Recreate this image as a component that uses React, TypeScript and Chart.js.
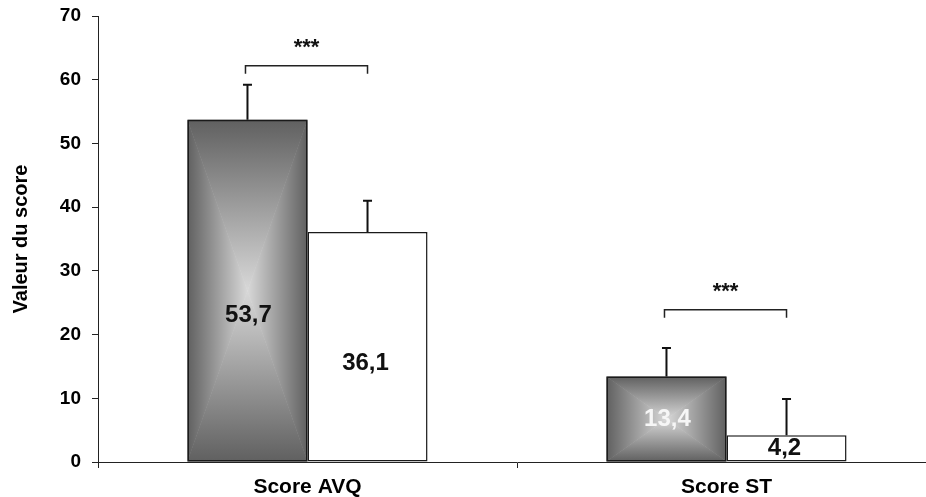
import React, { useEffect, useRef } from 'react';
import { Chart, registerables } from 'chart.js';

Chart.register(...registerables);

// ---- data ----
const categories = ['Score AVQ', 'Score ST'];
const groupGray = [53.7, 13.4];
const groupWhite = [36.1, 4.2];
const errTopGray = [59.2, 17.9];
const errTopWhite = [41.0, 9.9];
const labelsGray = ['53,7', '13,4'];
const labelsWhite = ['36,1', '4,2'];
const sigLevels = [62.2, 23.9];
const sigTexts = ['***', '***'];
const yMin = 0;
const yMax = 70;
const yStep = 10;
const yTitle = 'Valeur du score';

// ---- style ----
const FONT = '"Liberation Sans", Arial, sans-serif';
const LABEL_FRAC = [0.43, 0.5];
const LABEL_COLORS_GRAY = ['#111111', '#f6f6f6'];
const AXIS_COLOR = '#222222';

const W = 940;
const H = 497;

const overlayPlugin = {
  id: 'overlay',
  beforeDatasetDraw(chart: any, args: any) {
    if (args.index !== 0) return;
    const ctx = chart.ctx as CanvasRenderingContext2D;
    const meta = chart.getDatasetMeta(0);
    meta.data.forEach((bar: any) => {
      const { x, y, base, width } = bar.getProps(['x', 'y', 'base', 'width'], true);
      const l = x - width / 2;
      const r = x + width / 2;
      const t = Math.min(y, base);
      const b = Math.max(y, base);
      const cx = x;
      const cy = (t + b) / 2;
      const tri = (pts: number[][], gx0: number, gy0: number, gx1: number, gy1: number) => {
        const g = ctx.createLinearGradient(gx0, gy0, gx1, gy1);
        g.addColorStop(0, '#606060');
        g.addColorStop(0.5, '#9c9c9c');
        g.addColorStop(1, '#d8d8d8');
        ctx.fillStyle = g;
        ctx.beginPath();
        ctx.moveTo(pts[0][0], pts[0][1]);
        ctx.lineTo(pts[1][0], pts[1][1]);
        ctx.lineTo(pts[2][0], pts[2][1]);
        ctx.closePath();
        ctx.fill();
      };
      ctx.save();
      for (let k = 0; k < 2; k++) {
        tri([[l, t], [l, b], [cx, cy]], l, cy, cx, cy);
        tri([[r, t], [r, b], [cx, cy]], r, cy, cx, cy);
        tri([[l, t], [r, t], [cx, cy]], cx, t, cx, cy);
        tri([[l, b], [r, b], [cx, cy]], cx, b, cx, cy);
      }
      ctx.restore();
    });
  },
  afterDatasetsDraw(chart: any) {
    const ctx = chart.ctx as CanvasRenderingContext2D;
    const yS = chart.scales.y;
    const m0 = chart.getDatasetMeta(0);
    const m1 = chart.getDatasetMeta(1);
    ctx.save();
    // error bars
    const drawErr = (bar: any, top: number) => {
      const { x, y } = bar.getProps(['x', 'y'], true);
      const yt = yS.getPixelForValue(top);
      ctx.strokeStyle = '#111111';
      ctx.lineWidth = 2;
      ctx.beginPath();
      ctx.moveTo(x, y);
      ctx.lineTo(x, yt);
      ctx.moveTo(x - 4.5, yt);
      ctx.lineTo(x + 4.5, yt);
      ctx.stroke();
    };
    categories.forEach((_, i) => {
      drawErr(m0.data[i], errTopGray[i]);
      drawErr(m1.data[i], errTopWhite[i]);
    });
    // value labels
    ctx.font = `bold 24px ${FONT}`;
    ctx.textAlign = 'center';
    ctx.textBaseline = 'middle';
    categories.forEach((_, i) => {
      const b0 = m0.data[i].getProps(['x'], true);
      const b1 = m1.data[i].getProps(['x'], true);
      ctx.fillStyle = LABEL_COLORS_GRAY[i];
      ctx.fillText(labelsGray[i], b0.x + 1, yS.getPixelForValue(groupGray[i] * LABEL_FRAC[i]));
      ctx.fillStyle = '#111111';
      ctx.fillText(labelsWhite[i], b1.x - 2, yS.getPixelForValue(groupWhite[i] * LABEL_FRAC[i]));
    });
    // significance brackets
    categories.forEach((_, i) => {
      const xa = m0.data[i].getProps(['x'], true).x - 2;
      const xb = m1.data[i].getProps(['x'], true).x;
      const yb = yS.getPixelForValue(sigLevels[i]);
      ctx.strokeStyle = '#222222';
      ctx.lineWidth = 1.5;
      ctx.beginPath();
      ctx.moveTo(xa, yb + 8);
      ctx.lineTo(xa, yb);
      ctx.lineTo(xb, yb);
      ctx.lineTo(xb, yb + 8);
      ctx.stroke();
      ctx.fillStyle = '#111111';
      ctx.font = `bold 22px ${FONT}`;
      ctx.textAlign = 'center';
      ctx.textBaseline = 'middle';
      ctx.fillText(sigTexts[i], (xa + xb) / 2, yb - 18);
    });
    ctx.restore();
  },
};

export default function App() {
  const ref = useRef<HTMLCanvasElement | null>(null);
  useEffect(() => {
    if (!ref.current) return;
    const chart = new Chart(ref.current, {
      type: 'bar',
      data: {
        labels: categories,
        datasets: [
          {
            data: groupGray,
            backgroundColor: 'rgba(0,0,0,0)',
            borderColor: '#1a1a1a',
            borderWidth: 1.5,
            borderSkipped: false,
            barPercentage: 1,
            categoryPercentage: 0.573,
          },
          {
            data: groupWhite,
            backgroundColor: '#ffffff',
            borderColor: '#1a1a1a',
            borderWidth: 1.5,
            borderSkipped: false,
            barPercentage: 1,
            categoryPercentage: 0.573,
          },
        ],
      },
      options: {
        responsive: false,
        animation: false,
        devicePixelRatio: 1,
        layout: { padding: { left: 0, right: 4, top: 16, bottom: 0 } },
        plugins: { legend: { display: false }, tooltip: { enabled: false } },
        scales: {
          x: {
            offset: true,
            grid: { display: true, drawOnChartArea: false, tickLength: 6, color: AXIS_COLOR, offset: true },
            border: { display: true, color: AXIS_COLOR, width: 1 },
            ticks: { color: '#000', font: { family: FONT, size: 21, weight: 'bold' }, padding: 7, maxRotation: 0 },
            afterFit: (s: any) => { s.height = 35; s.paddingLeft = 0; s.paddingRight = 0; },
          },
          y: {
            min: yMin,
            max: yMax,
            grid: { display: true, drawOnChartArea: false, tickLength: 6, color: AXIS_COLOR },
            border: { display: true, color: AXIS_COLOR, width: 1 },
            ticks: { stepSize: yStep, color: '#000', font: { family: FONT, size: 19, weight: 'bold' }, padding: 11 },
            title: { display: true, text: yTitle, color: '#000', font: { family: FONT, size: 20, weight: 'bold' }, padding: { top: 9, bottom: 0 } },
            afterFit: (s: any) => { s.width = 98; s.paddingTop = 0; s.paddingBottom = 0; },
          },
        },
      },
      plugins: [overlayPlugin],
    });
    return () => chart.destroy();
  }, []);
  return (
    <div style={{ position: 'fixed', left: 0, top: 0, width: 926, height: 497, overflow: 'hidden', background: '#fff' }}>
      <canvas ref={ref} width={W} height={H} style={{ display: 'block', width: W, height: H }} />
    </div>
  );
}
